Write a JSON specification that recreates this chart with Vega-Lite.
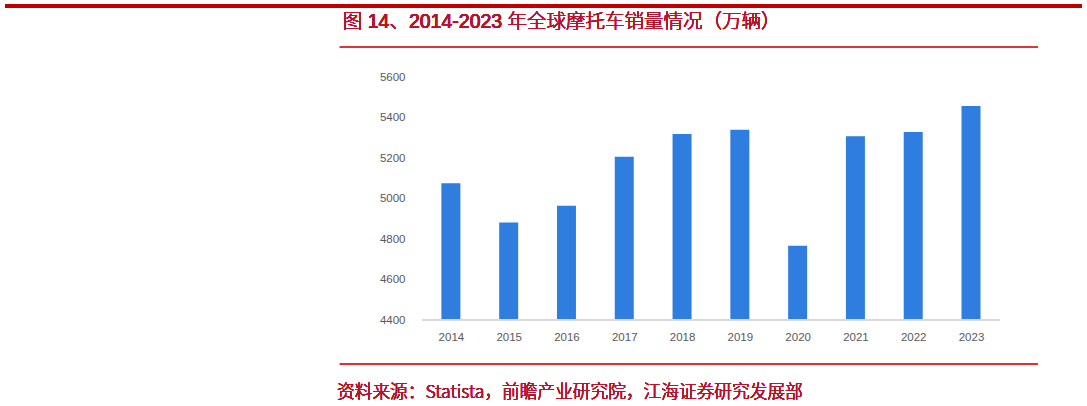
{
  "$schema": "https://vega.github.io/schema/vega-lite/v6.json",
  "width": 1077,
  "height": 243,
  "autosize": {"type": "none"},
  "padding": {"left": 5, "top": 77, "right": 5, "bottom": 86},
  "background": "white",
  "config": {"view": {"stroke": null}},
  "data": {
    "values": [
      {"year": 2014, "sales": 5075},
      {"year": 2015, "sales": 4882},
      {"year": 2016, "sales": 4964},
      {"year": 2017, "sales": 5206},
      {"year": 2018, "sales": 5318},
      {"year": 2019, "sales": 5340},
      {"year": 2020, "sales": 4767},
      {"year": 2021, "sales": 5307},
      {"year": 2022, "sales": 5328},
      {"year": 2023, "sales": 5457}
    ]
  },
  "layer": [
    {
      "mark": {"type": "bar", "width": 19, "color": "#2E7DDF"},
      "encoding": {
        "x": {
          "field": "year",
          "type": "quantitative",
          "scale": {"domain": [2006.371, 2024.834], "nice": false, "zero": false},
          "axis": {
            "values": [2014, 2015, 2016, 2017, 2018, 2019, 2020, 2021, 2022, 2023],
            "format": "d",
            "title": null,
            "domain": false,
            "ticks": false,
            "grid": false,
            "labelFlush": false,
            "labelPadding": 11,
            "labelFont": "Liberation Sans",
            "labelFontSize": 11.5,
            "labelColor": "#595959"
          }
        },
        "y": {
          "field": "sales",
          "type": "quantitative",
          "scale": {"domain": [4400, 5600], "nice": false, "zero": false},
          "axis": {
            "values": [4400, 4600, 4800, 5000, 5200, 5400, 5600],
            "format": "d",
            "title": null,
            "domain": false,
            "ticks": false,
            "grid": false,
            "offset": -400,
            "labelPadding": 0,
            "labelFont": "Liberation Sans",
            "labelFontSize": 11.5,
            "labelColor": "#595959"
          }
        },
        "y2": {"datum": 4400}
      }
    },
    {
      "mark": {"type": "rule", "color": "#C00000", "strokeWidth": 3},
      "encoding": {"y": {"datum": 5950.6, "type": "quantitative"}}
    },
    {
      "mark": {"type": "rule", "color": "#D8383A", "strokeWidth": 1.5},
      "encoding": {
        "y": {"datum": 5748, "type": "quantitative"},
        "x": {"datum": 2012.08, "type": "quantitative"},
        "x2": {"datum": 2024.149}
      }
    },
    {
      "mark": {"type": "rule", "color": "#E0302F", "strokeWidth": 1.5},
      "encoding": {
        "y": {"datum": 4183, "type": "quantitative"},
        "x": {"datum": 2012.08, "type": "quantitative"},
        "x2": {"datum": 2024.149}
      }
    },
    {
      "mark": {"type": "rule", "color": "#D9D9D9", "strokeWidth": 1},
      "encoding": {
        "y": {"datum": 4400, "type": "quantitative"},
        "x": {"datum": 2013.5, "type": "quantitative"},
        "x2": {"datum": 2023.5}
      }
    },
    {
      "mark": {
        "type": "text",
        "align": "left",
        "baseline": "middle",
        "font": "'Liberation Sans', 'Noto Sans CJK SC'",
        "fontSize": 19.5,
        "fontWeight": 300,
        "fill": "#B8132E",
        "text": "图 14、2014-2023 年全球摩托车销量情况（万辆）"
      },
      "encoding": {
        "x": {"datum": 2012.13, "type": "quantitative"},
        "y": {"datum": 5871.6, "type": "quantitative"}
      }
    },
    {
      "mark": {
        "type": "text",
        "align": "left",
        "baseline": "middle",
        "font": "'Noto Sans CJK SC'",
        "fontSize": 17.7,
        "fontWeight": 300,
        "fill": "#B8132E",
        "text": "资料来源：Statista，前瞻产业研究院，江海证券研究发展部"
      },
      "encoding": {
        "x": {"datum": 2012.03, "type": "quantitative"},
        "y": {"datum": 4039.5, "type": "quantitative"}
      }
    }
  ]
}
